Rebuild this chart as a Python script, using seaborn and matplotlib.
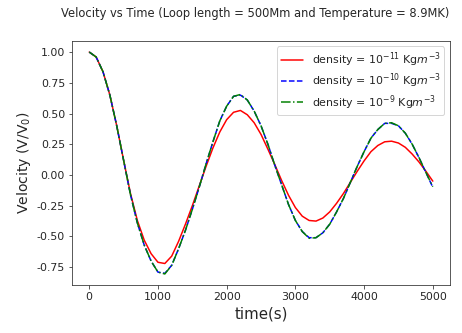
import seaborn as sns
import matplotlib.pyplot as plt

# waktu (s)
time = [0, 100, 200, 300, 400, 500, 600, 700, 800, 900,
        1000, 1100, 1200, 1300, 1400, 1500, 1600, 1700, 1800, 1900,
        2000, 2100, 2200, 2300, 2400, 2500, 2600, 2700, 2800, 2900,
        3000, 3100, 3200, 3300, 3400, 3500, 3600, 3700, 3800, 3900,
        4000, 4100, 4200, 4300, 4400, 4500, 4600, 4700, 4800, 4900,
        5000]

# V/V0 untuk tiap densitas
v_rho11 = [1.00, 0.96, 0.84, 0.65, 0.40, 0.12, -0.15, -0.37, -0.53, -0.64,
           -0.71, -0.72, -0.66, -0.54, -0.40, -0.25, -0.09, 0.07, 0.22, 0.35,
           0.45, 0.51, 0.525, 0.49, 0.425, 0.33, 0.21, 0.085, -0.045, -0.165,
           -0.265, -0.335, -0.37, -0.375, -0.35, -0.30, -0.23, -0.15, -0.06, 0.03,
           0.115, 0.19, 0.24, 0.27, 0.275, 0.26, 0.225, 0.17, 0.105, 0.03,
           -0.05]

v_rho10 = [1.00, 0.96, 0.84, 0.65, 0.40, 0.12, -0.16, -0.39, -0.57, -0.70,
           -0.79, -0.80, -0.735, -0.60, -0.45, -0.28, -0.10, 0.09, 0.27, 0.44,
           0.56, 0.64, 0.65, 0.61, 0.52, 0.40, 0.25, 0.08, -0.08, -0.24,
           -0.37, -0.46, -0.51, -0.51, -0.47, -0.40, -0.30, -0.19, -0.06, 0.07,
           0.19, 0.30, 0.37, 0.42, 0.42, 0.40, 0.34, 0.25, 0.14, 0.02,
           -0.10]

v_rho9 = [1.00, 0.96, 0.84, 0.65, 0.40, 0.12, -0.16, -0.39, -0.57, -0.70,
          -0.79, -0.805, -0.735, -0.60, -0.45, -0.28, -0.10, 0.09, 0.27, 0.44,
          0.56, 0.64, 0.655, 0.61, 0.52, 0.40, 0.25, 0.08, -0.08, -0.24,
          -0.37, -0.46, -0.515, -0.51, -0.47, -0.40, -0.30, -0.19, -0.06, 0.07,
          0.19, 0.30, 0.37, 0.42, 0.425, 0.40, 0.34, 0.25, 0.14, 0.02,
          -0.095]

sns.set_style("ticks")
plt.rcParams['font.family'] = ['DejaVu Sans']

fig = plt.figure(figsize=(462 / 72, 333 / 72), dpi=72)
ax = fig.add_axes([0.156, 0.144, 0.818, 0.733])

sns.lineplot(x=time, y=v_rho11, color='red', linewidth=1.5, ax=ax,
             label='density = $10^{-11}$ Kg$m^{-3}$')
sns.lineplot(x=time, y=v_rho10, color='blue', linewidth=1.5, linestyle='--', ax=ax,
             label='density = $10^{-10}$ Kg$m^{-3}$')
sns.lineplot(x=time, y=v_rho9, color='green', linewidth=1.5, linestyle='-.', ax=ax,
             label='density = $10^{-9}$ Kg$m^{-3}$')

ax.set_xticks([0, 1000, 2000, 3000, 4000, 5000])
ax.set_yticks([-0.75, -0.5, -0.25, 0.0, 0.25, 0.5, 0.75, 1.0])
ax.yaxis.set_major_formatter(plt.FormatStrFormatter('%.2f'))
ax.tick_params(labelsize=11, length=3.5, width=0.8, color='#333333')
for s in ax.spines.values():
    s.set_color('#333333')
    s.set_linewidth(0.8)

ax.set_xlabel('time(s)', fontsize=15)
ax.set_ylabel('Velocity (V/V$_0$)', fontsize=14)
fig.suptitle('Velocity vs Time (Loop length = 500Mm and Temperature = 8.9MK)',
             x=0.553, y=0.98, fontsize=11.5)
ax.legend(loc='upper right', fontsize=11, frameon=True, labelspacing=0.25,
          borderpad=0.35)

plt.savefig('out.png', dpi=72)
